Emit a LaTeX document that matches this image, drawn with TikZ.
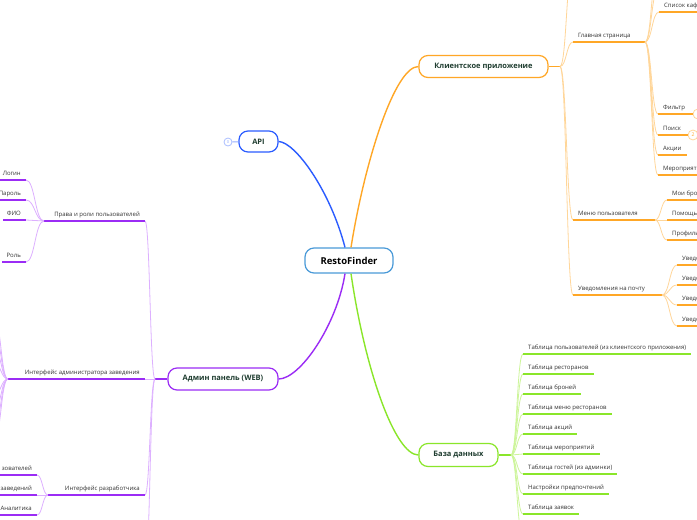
\documentclass[tikz,border=0pt]{standalone}
\usepackage{fontspec}
\setmainfont{Open Sans}
\usetikzlibrary{calc}
\definecolor{org}{HTML}{FFA726}
\definecolor{orgl}{HTML}{FFD699}
\definecolor{pur}{HTML}{9B2CF5}
\definecolor{purl}{HTML}{DDB0FF}
\definecolor{grn}{HTML}{8AE62A}
\definecolor{grnl}{HTML}{CDF59A}
\definecolor{blu}{HTML}{2B5CFF}
\definecolor{cen}{HTML}{4A9AD8}
\definecolor{boxtxt}{HTML}{1F3D30}
\tikzset{
  topic/.style={draw, rounded corners=9pt, line width=1.2pt, fill=white, text=boxtxt,
    font=\bfseries\fontsize{7.5}{9}\selectfont, minimum height=22pt, inner sep=0pt},
  lbl/.style={font=\fontsize{6}{7}\selectfont, text=black!80, inner sep=0pt},
  uline/.style={line width=1.8pt},
  branch/.style={line width=0.8pt},
  mainline/.style={line width=1.4pt},
  circ/.style={circle, draw=orgl, fill=white, line width=0.8pt, minimum size=10pt,
    inner sep=0pt, font=\fontsize{5}{5}\selectfont, text=org},
}
\newcommand\brc[3]{%
  \draw[branch,#3] let \p1=(#1), \p2=(#2) in
    (#1) .. controls ({(\x1+\x2)/2},\y1) and ({(\x1+\x2)/2},\y2) .. (#2);}
% right child: name, junction, x, y, colour, text
\newcommand\rkid[6]{%
  \coordinate (#1-L) at (#3,#4);
  \node[lbl,anchor=base west] (#1) at (#3+5,#4-4.5) {#6};
  \brc{#2}{#1-L}{#5l}
  \draw[uline,#5] (#1-L) -- (#1-L -| #1.east) -- ++(5,0);}
% right parent: name, junction, x, y, jx, colour, text
\newcommand\rpar[7]{%
  \coordinate (#1-L) at (#3,#4);
  \coordinate (#1-J) at (#5,#4);
  \node[lbl,anchor=base west] (#1) at (#3+5,#4-4.5) {#7};
  \brc{#2}{#1-L}{#6l}
  \draw[uline,#6] (#1-L) -- (#1-J);}
% left child: name, junction, x(right end), y, colour, text
\newcommand\lkid[6]{%
  \coordinate (#1-R) at (#3,#4);
  \node[lbl,anchor=base east] (#1) at (#3-5,#4-4.5) {#6};
  \brc{#2}{#1-R}{#5l}
  \draw[uline,#5] (#1-R) -- (#1-R -| #1.west) -- ++(-4,0);}
% left parent: name, junction, x(right end), y, jx, colour, text
\newcommand\lpar[7]{%
  \coordinate (#1-R) at (#3,#4);
  \coordinate (#1-J) at (#5,#4);
  \node[lbl,anchor=base east] (#1) at (#3-5,#4-4.5) {#7};
  \brc{#2}{#1-R}{#6l}
  \draw[uline,#6] (#1-R) -- (#1-J);}
\begin{document}
\begin{tikzpicture}[x=1pt,y=-1pt]
\useasboundingbox (0,0) rectangle (697,520);
\fill[white] (0,0) rectangle (697,520);
\clip (0,0) rectangle (697,520);

% ---- topics
\node[topic,draw=cen,text=black,font=\bfseries\fontsize{9.5}{11}\selectfont,
  minimum width=88pt,minimum height=25pt] (root) at (349,260.5) {RestoFinder};
\node[topic,draw=blu,minimum width=39pt,minimum height=21pt] (api) at (258.5,141.5) {API};
\node[topic,draw=org,minimum width=129pt] (client) at (483.5,66.5) {Клиентское приложение};
\node[topic,draw=pur,minimum width=110pt] (admin) at (223,379) {Админ панель (WEB)};
\node[topic,draw=grn,minimum width=79pt,minimum height=23pt] (db) at (458.5,455) {База данных};

% ---- main connectors
\draw[mainline,blu] (api.east) .. controls (295,142) and (330,190) .. ([xshift=-4pt]root.north);
\draw[mainline,org] ([xshift=2pt]root.north) .. controls (365,160) and (395,66.5) .. (client.west);
\draw[mainline,pur] ([xshift=-4pt]root.south) .. controls (337,325) and (300,379) .. (admin.east);
\draw[mainline,grn] ([xshift=2pt]root.south) .. controls (365,370) and (395,455) .. (db.west);

% ---- API collapse marker
\node[circle,draw=blu!40,fill=white,line width=0.8pt,minimum size=8pt,inner sep=0pt,
  font=\fontsize{4}{4}\selectfont,text=blu!50] (apic) at (228,142) {0};
\draw[line width=1pt,blu!50] (apic) -- (api);

% ---- client application
\coordinate (cJ) at (560,66.5);
\draw[uline,org] (client.east) -- (cJ);
\coordinate (cTop) at (573,-35);
\brc{cJ}{cTop}{orgl}
\rpar{gl}{cJ}{573}{42}{645}{org}{Главная страница}
\rpar{mu}{cJ}{573}{220}{655}{org}{Меню пользователя}
\rpar{un}{cJ}{573}{295}{662}{org}{Уведомления на почту}

\coordinate (glTopA) at (658,-10);
\coordinate (glTopB) at (658,-30);
\brc{gl-J}{glTopA}{orgl}
\brc{gl-J}{glTopB}{orgl}
\rkid{sk}{gl-J}{659}{12}{org}{Список кафе}
\rkid{fi}{gl-J}{658}{114}{org}{Фильтр}
\rkid{po}{gl-J}{658}{135}{org}{Поиск}
\rkid{ak}{gl-J}{658}{155}{org}{Акции}
\rkid{me}{gl-J}{658}{175}{org}{Мероприятия}
\node[circ] (fic) at (698,114) {};
\draw[uline,org] (fi-L) -- (fic);
\node[circ] (poc) at (693,135) {2};
\draw[uline,org] (po-L) -- (poc);

\rkid{mb}{mu-J}{667}{200}{org}{Мои брони}
\rkid{ph}{mu-J}{667}{220}{org}{Помощь}
\rkid{pf}{mu-J}{667}{240}{org}{Профиль}

\rkid{ua}{un-J}{677}{265}{org}{Уведом}
\rkid{ub}{un-J}{677}{285}{org}{Уведом}
\rkid{uc}{un-J}{677}{305}{org}{Уведом}
\rkid{ud}{un-J}{677}{326}{org}{Уведом}

% ---- database
\coordinate (dJ) at (511,455);
\draw[uline,grn] (db.east) -- (dJ);
\coordinate (dBot) at (523,536);
\brc{dJ}{dBot}{grnl}
\rkid{t1}{dJ}{523}{354}{grn}{Таблица пользователей (из клиентского приложения)}
\rkid{t2}{dJ}{523}{374}{grn}{Таблица ресторанов}
\rkid{t3}{dJ}{523}{394}{grn}{Таблица броней}
\rkid{t4}{dJ}{523}{414}{grn}{Таблица меню ресторанов}
\rkid{t5}{dJ}{523}{434}{grn}{Таблица акций}
\rkid{t6}{dJ}{523}{454}{grn}{Таблица мероприятий}
\rkid{t7}{dJ}{523}{474}{grn}{Таблица гостей (из админки)}
\rkid{t8}{dJ}{523}{494}{grn}{Настройки предпочтений}
\rkid{t9}{dJ}{523}{514}{grn}{Таблица заявок}

% ---- admin panel
\coordinate (aJ) at (155,379);
\draw[uline,pur] (admin.west) -- (aJ);
\coordinate (aBot) at (145,570);
\brc{aJ}{aBot}{purl}
\lpar{ar}{aJ}{145}{221}{44}{pur}{Права и роли пользователей}
\lpar{ai}{aJ}{145}{379}{8}{pur}{Интерфейс администратора заведения}
\lpar{ad}{aJ}{145}{495}{48}{pur}{Интерфейс разработчика}

\lkid{lg}{ar-J}{26}{180}{pur}{Логин}
\lkid{pw}{ar-J}{26}{200}{pur}{Пароль}
\lkid{fio}{ar-J}{26}{220}{pur}{ФИО}
\lkid{rl}{ar-J}{26}{262}{pur}{Роль}

\foreach \k/\yy in {1/318,2/333,3/348,4/363,5/395,6/410,7/425,8/440}{
  \coordinate (aiK\k) at (-6,\yy);
  \brc{ai-J}{aiK\k}{purl}
}

\lkid{d1}{ad-J}{37}{475}{pur}{зователей}
\lkid{d2}{ad-J}{37}{495}{pur}{заведений}
\lkid{d3}{ad-J}{37}{515}{pur}{Аналитика}
\end{tikzpicture}
\end{document}
